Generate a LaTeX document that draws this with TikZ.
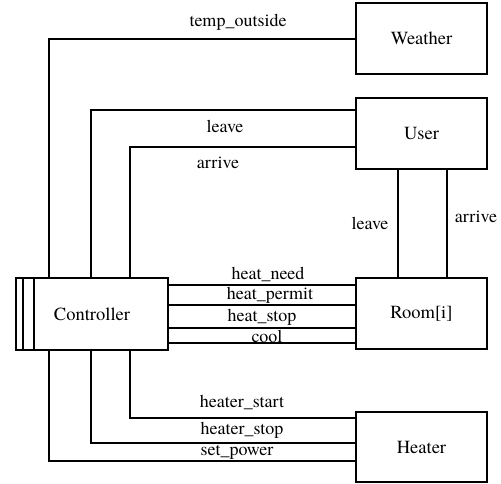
\documentclass[tikz,border=0pt]{standalone}
\usepackage{fontspec}
\setmainfont{texgyretermes}[Extension=.otf,UprightFont=*-regular,BoldFont=*-bold,ItalicFont=*-italic,BoldItalicFont=*-bolditalic]
\usetikzlibrary{calc}
\begin{document}
\begin{tikzpicture}[x=1pt,y=-1pt,
  box/.style={draw,line width=2pt,minimum width=131pt,minimum height=71pt,inner sep=0pt,anchor=north west,font=\rmfamily\fontsize{18.5}{21}\selectfont},
  wire/.style={line width=2pt},
  lbl/.style={font=\rmfamily\fontsize{18}{21}\selectfont,inner sep=0pt}]
\useasboundingbox (0,0) rectangle (501,483);
\node[box,minimum width=152pt,minimum height=72pt] (ctrl) at (15,277) {Controller};
\draw[wire] ($(ctrl.north west)+(8,0)$) -- ($(ctrl.south west)+(8,0)$);
\draw[wire] ($(ctrl.north west)+(19,0)$) -- ($(ctrl.south west)+(19,0)$);
\node[box] (weather) at (355,2) {Weather};
\node[box] (user) at (355,97) {User};
\node[box] (room) at (355,277) {Room[i]};
\node[box,minimum height=70pt] (heater) at (355,411) {Heater};
% top wires
\draw[wire] ($(ctrl.north west)+(34,0)$) |- (weather.west);
\draw[wire] ($(ctrl.north west)+(76,0)$) |- ($(user.north west)+(0,13)$);
\draw[wire] ($(ctrl.north west)+(115,0)$) |- ($(user.north west)+(0,50)$);
% user-room
\draw[wire] ($(user.south west)+(43,0)$) -- ($(room.north west)+(43,0)$);
\draw[wire] ($(user.south west)+(92,0)$) -- ($(room.north west)+(92,0)$);
% controller-room
\foreach \yy in {285,305,328,343}
  \draw[wire] (ctrl.east |- 0,\yy) -- (room.west |- 0,\yy);
% bottom wires
\draw[wire] ($(ctrl.south west)+(115,0)$) |- ($(heater.north west)+(0,7)$);
\draw[wire] ($(ctrl.south west)+(76,0)$) |- ($(heater.north west)+(0,32)$);
\draw[wire] ($(ctrl.south west)+(34,0)$) |- ($(heater.north west)+(0,50)$);
% labels
\node[lbl] (l1) at (238,22) {temp\_outside};
\node[lbl] (l2) at (225,126) {leave};
\node[lbl] (l3) at (218,163) {arrive};
\node[lbl] (l4) at (370,223) {leave};
\node[lbl] (l5) at (476,217) {arrive};
\node[lbl] (l6) at (268,274) {heat\_need};
\node[lbl] (l7) at (270,295) {heat\_permit};
\node[lbl] (l8) at (262,317) {heat\_stop};
\node[lbl] (l9) at (267,336) {cool};
\node[lbl] (l10) at (242,402) {heater\_start};
\node[lbl] (l11) at (242,430) {heater\_stop};
\node[lbl] (l12) at (237,452) {set\_power};
\end{tikzpicture}
\end{document}
